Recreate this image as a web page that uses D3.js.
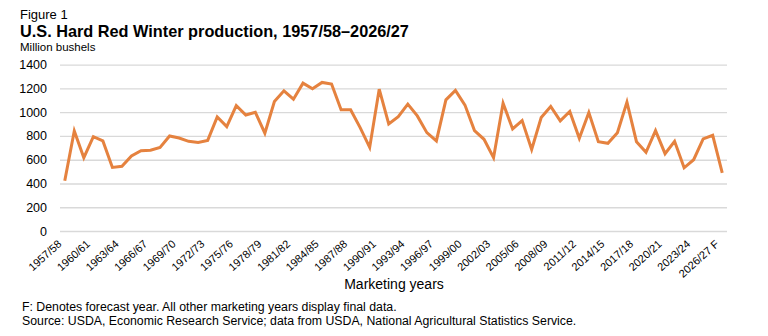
<!DOCTYPE html>
<html><head><meta charset="utf-8">
<script src="https://cdn.jsdelivr.net/npm/d3@7"></script>
<style>
body{margin:0;background:#fff;}
svg{display:block;font-family:"Liberation Sans",Arial,sans-serif;}
</style></head>
<body><svg id="c" width="768" height="336"></svg>
<script>
const startYears = d3.range(1957, 2027);
const categories = startYears.map(y => y + "/" + String((y + 1) % 100).padStart(2, "0") + (y === 2026 ? " F" : ""));
const production = [423,842,617,794,758,535,545,631,676,680,704,800,783,755,
  746,763,961,879,1056,977,1000,823,1090,1180,1110,1245,1197,1251,1237,1020,
  1020,870,704,1194,901,963,1068,969,828,758,1104,1183,1060,845,772,617,1076,
  859,930,687,955,1048,927,1006,780,997,752,738,828,1085,752,662,845,651,755,
  532,600,775,806,490];
const yTicks = [0,200,400,600,800,1000,1200,1400];
const labelEvery = 3;

const svg = d3.select("#c");
const x = d3.scalePoint().domain(categories).range([60, 727]).padding(0.5);
const y = d3.scaleLinear().domain([0, 1400]).range([231, 64.7]);

svg.append("text").attr("x", 20).attr("y", 19).attr("font-size", 13).attr("fill", "#000").text("Figure 1");
svg.append("text").attr("x", 20).attr("y", 37).attr("font-size", 16.3).attr("font-weight", "bold").attr("fill", "#000")
  .text("U.S. Hard Red Winter production, 1957/58–2026/27");
svg.append("text").attr("x", 20).attr("y", 51).attr("font-size", 11.5).attr("fill", "#000").text("Million bushels");

const yAxis = d3.axisLeft(y).tickValues(yTicks).tickFormat(d3.format("d")).tickSize(-(727 - 60)).tickPadding(13);
const gy = svg.append("g").attr("transform", "translate(60,0)").call(yAxis);
gy.select(".domain").remove();
gy.selectAll(".tick line").attr("stroke", "#d9d9d9").attr("stroke-width", 1.3);
gy.selectAll(".tick text").attr("font-size", 12.5).attr("fill", "#000").attr("font-family", "Liberation Sans, Arial, sans-serif");

const xAxis = d3.axisBottom(x).tickValues(categories.filter((d, i) => i % labelEvery === 0)).tickSize(0);
const gx = svg.append("g").attr("transform", "translate(0,231)").call(xAxis);
gx.select(".domain").remove();
gx.selectAll(".tick text")
  .attr("font-size", 11).attr("fill", "#000").attr("font-family", "Liberation Sans, Arial, sans-serif")
  .attr("text-anchor", "end").attr("dy", 0).attr("y", 0)
  .attr("transform", "translate(-3,14) rotate(-42)");

svg.append("path").datum(production)
  .attr("fill", "none").attr("stroke", "#e5823f").attr("stroke-width", 3).attr("stroke-linejoin", "miter")
  .attr("d", d3.line().x((d, i) => x(categories[i])).y(d => y(d)));

svg.append("text").attr("x", 394).attr("y", 289).attr("text-anchor", "middle").attr("font-size", 14).attr("fill", "#000").text("Marketing years");
svg.append("text").attr("x", 22).attr("y", 311).attr("font-size", 12.3).attr("fill", "#000").text("F: Denotes forecast year. All other marketing years display final data.");
svg.append("text").attr("x", 22).attr("y", 325).attr("font-size", 12.3).attr("fill", "#000").text("Source: USDA, Economic Research Service; data from USDA, National Agricultural Statistics Service.");
</script></body></html>
